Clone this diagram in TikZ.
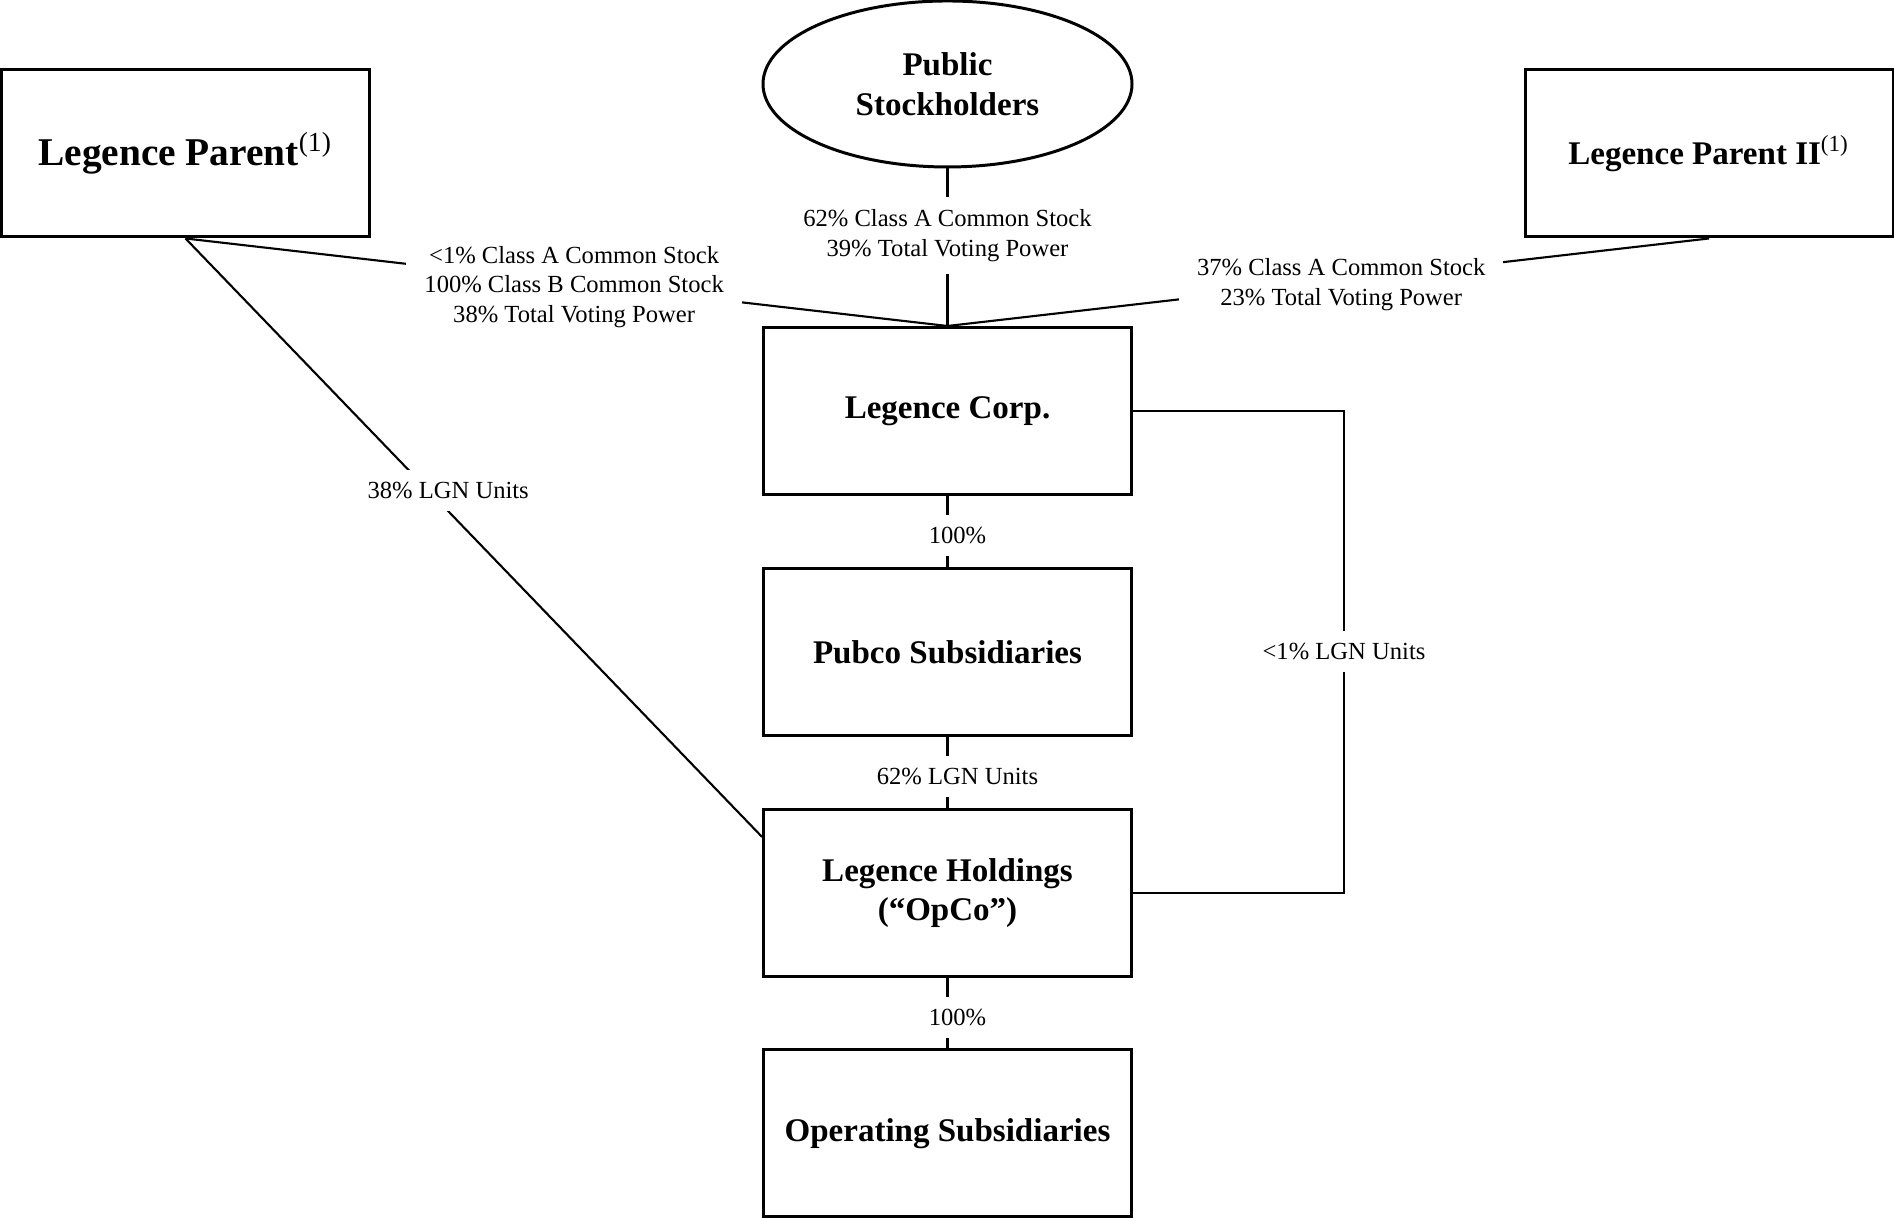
\documentclass[tikz,border=0pt]{standalone}
\usepackage{fontspec}
\setmainfont{Liberation Serif}
\usetikzlibrary{
	shapes.geometric,
	calc
}

\begin{document}
\begin{tikzpicture}[
		box/.style={draw, line width=0.85pt, minimum width=3.68cm, minimum height=1.67cm, inner sep=0pt, align=center, font=\fontsize{9.4}{11.3}\selectfont\bfseries},
		lbl/.style={fill=white, inner xsep=0.18cm, inner ysep=0.12cm, yshift=-0.04cm, align=center, font=\fontsize{7}{8.5}\selectfont},
		link/.style={line width=0.6pt}
	]
		\useasboundingbox (0,0) rectangle (18.94,12.19);
		
		% owners on top
		\node[box, font=\fontsize{11.2}{13}\selectfont\bfseries] (parent) at (1.855,10.655) {\raisebox{-0.05cm}{Legence Parent\textsuperscript{\mdseries(1)}}};
		\node[box, ellipse, minimum width=3.69cm, minimum height=1.66cm] (public) at (9.475,11.35) {Public\\Stockholders};
		\node[box] (parenttwo) at (17.09,10.655) {\raisebox{-0.05cm}{Legence Parent II\textsuperscript{\mdseries(1)}}};
		
		% middle column
		\node[box] (corp) at (9.475,8.08) {Legence Corp.};
		\node[box] (pubco) at (9.475,5.665) {Pubco Subsidiaries};
		\node[box] (opco) at (9.475,3.26) {Legence Holdings\\(“OpCo”)};
		\node[box] (opsub) at (9.475,0.855) {Operating Subsidiaries};
		
		% stock held in Legence Corp.
		\draw[link] (parent.south) -- node[lbl, pos=0.51] {<1\% Class A Common Stock\\100\% Class B Common Stock\\38\% Total Voting Power} (corp.north);
		\draw[link] (public.south) -- node[lbl, pos=0.4] {62\% Class A Common Stock\\39\% Total Voting Power} (corp.north);
		\draw[link] (parenttwo.south) -- node[lbl, pos=0.483] {37\% Class A Common Stock\\23\% Total Voting Power} (corp.north);
		
		% LGN units
		\draw[link] (parent.south) -- node[lbl, pos=0.414, xshift=0.24cm] {38\% LGN Units} ($(opco.north west)!0.17!(opco.south west)$);
		\draw[link] (corp.east) -- ++(2.11,0) |- node[lbl, pos=0.245] {<1\% LGN Units} (opco.east);
		
		\draw[link] (corp.south) -- node[lbl, xshift=0.1cm] {100\%} (pubco.north);
		\draw[link] (pubco.south) -- node[lbl, xshift=0.1cm] {62\% LGN Units} (opco.north);
		\draw[link] (opco.south) -- node[lbl, xshift=0.1cm] {100\%} (opsub.north);
	\end{tikzpicture}
\end{document}
